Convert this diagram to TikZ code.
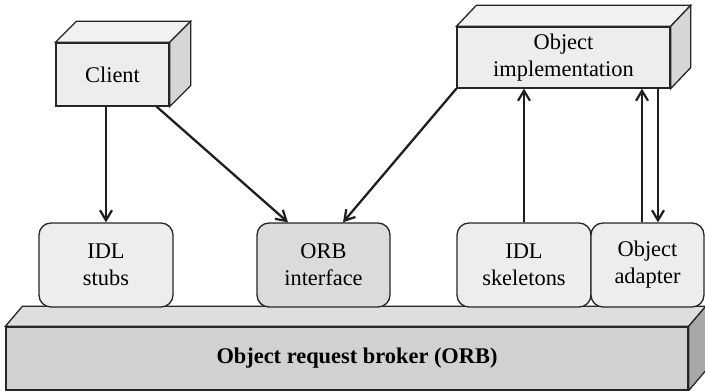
\documentclass[tikz,border=0pt]{standalone}
\usepackage{fontspec}
\setmainfont{Liberation Serif}
\usepackage{tikz}
\usetikzlibrary{arrows.meta,positioning}
\colorlet{corbaface}{black!7}
\colorlet{corbatop}{black!5}
\colorlet{corbaside}{black!16}
\colorlet{corbadark}{black!14}
\colorlet{corbabase}{black!18}
\colorlet{corbabasetop}{black!13}
\colorlet{corbabaseside}{black!34}
\tikzset{
  corbaedge/.style={draw=black!85,line width=1.3pt},
  corbastage/.style={
    corbaedge,
    align=center,
    inner sep=0pt,
    font=\fontsize{22.4}{27}\selectfont
  },
  corbacube/.style={corbastage,fill=corbaface},
  corbalayer/.style={corbastage,rounded corners=12pt,fill=corbaface,
                     minimum height=84pt},
  corbaflow/.style={-{Straight Barb[length=10pt,width=12pt,line width=2.2pt]},
                    line width=2.3pt,black!88}
}
% top and right faces of a box drawn as a front node
\newcommand{\corbafaces}[4]{%
  \filldraw[corbaedge,fill=#3] (#1.north west) -- ++(#2)
    -- ([shift={(#2)}]#1.north east) -- (#1.north east) -- cycle;
  \filldraw[corbaedge,fill=#4] (#1.north east) -- ++(#2)
    -- ([shift={(#2)}]#1.south east) -- (#1.south east) -- cycle;
}

\begin{document}
\begin{tikzpicture}[
  x=1pt,y=1pt
]
  \useasboundingbox (0,0) rectangle (705,391);

  % boxes with depth
  \node[corbacube,minimum width=113pt,minimum height=63pt] (client)
    at (112.5,316.5) {Client};
  \corbafaces{client}{21,21}{corbatop}{corbaside}
  \node[corbacube,minimum width=213pt,minimum height=61pt] (impl)
    at (563.5,333.5) {Object\\implementation};
  \corbafaces{impl}{20,21}{corbatop}{corbaside}
  \node[corbacube,fill=corbabase,minimum width=682pt,minimum height=63pt] (orb)
    at (347,32.5) {\hspace*{20pt}\textbf{Object request broker (ORB)}};
  \corbafaces{orb}{17,20}{corbabasetop}{corbabaseside}

  % components on the broker
  \node[corbalayer,minimum width=134pt] (stubs) at (106,126) {IDL\\stubs};
  \node[corbalayer,fill=corbadark,minimum width=133pt] (orbif)
    at (323.5,126) {ORB\\interface};
  \node[corbalayer,minimum width=134pt] (skel) at (524,126) {IDL\\skeletons};
  \node[corbalayer,minimum width=113pt] (adapter) at (647.5,126) {Object\\adapter};

  \draw[corbaflow] (client.south -| stubs.north) -- (stubs.north);
  \draw[corbaflow] ([xshift=-13]client.south east) -- ([xshift=-35.5]orbif.north);
  \draw[corbaflow] (impl.south west) -- ([xshift=19.5]orbif.north);
  \draw[corbaflow] (skel.north) -- (skel.north |- impl.south);
  \draw[corbaflow] ([xshift=-5.5]adapter.north) -- ([xshift=-5.5]adapter.north |- impl.south);
  \draw[corbaflow] ([xshift=10.5]adapter.north |- impl.south) -- ([xshift=10.5]adapter.north);
\end{tikzpicture}
\end{document}
